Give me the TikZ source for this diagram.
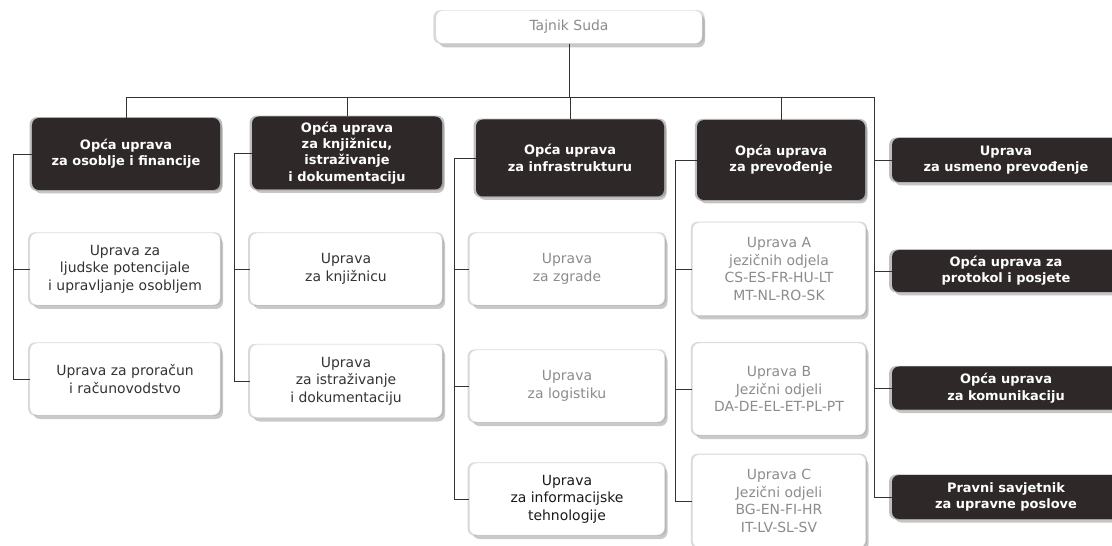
\documentclass[tikz,border=0pt]{standalone}
\usepackage{fontspec}
\setmainfont{DejaVu Sans}
\usetikzlibrary{shadows}
\definecolor{boxdark}{HTML}{2E2829}
\tikzset{
  base/.style={rounded corners=7bp, align=center, inner sep=2bp},
  hdr/.style={base, fill=boxdark, text=white,
    font=\fontsize{13}{16.5}\selectfont\bfseries,
    general shadow={fill=black!25, shadow scale=1.025},
    drop shadow={shadow xshift=2.5bp, shadow yshift=-3.5bp, fill=black!45}},
  unit/.style={base, fill=white, draw=black!12, text=black!80,
    font=\fontsize{14}{17.5}\selectfont,
    general shadow={fill=black!15, shadow scale=1.02},
    drop shadow={shadow xshift=3bp, shadow yshift=-4bp, fill=black!42}},
  faded/.style={text=black!45},
  link/.style={draw=black!80, line width=0.9bp},
}
\begin{document}
\begin{tikzpicture}[x=1bp,y=-1bp]
\clip (0,0) rectangle (1112,546);
\fill[white] (0,0) rectangle (1112,546);
% top
\node[unit, faded, minimum width=266bp, minimum height=33bp] (top) at (569,27) {Tajnik Suda};
% headers
\node[hdr, minimum width=188bp, minimum height=72bp] (d1) at (126,154) {Opća uprava\\za osoblje i financije};
\node[hdr, minimum width=190bp, minimum height=73bp] (d2) at (347,153) {Opća uprava\\za knjižnicu,\\istraživanje\\i dokumentaciju};
\node[hdr, minimum width=188bp, minimum height=77bp] (d3) at (570,158) {Opća uprava\\za infrastrukturu};
\node[hdr, minimum width=168bp, minimum height=80bp] (d4) at (781,160) {Opća uprava\\za prevođenje};
% right column
\node[hdr, minimum width=228bp, minimum height=44bp] (r1) at (1006,160) {Uprava\\za usmeno prevođenje};
\node[hdr, minimum width=228bp, minimum height=42bp] (r2) at (1006,271) {Opća uprava za\\protokol i posjete};
\node[hdr, minimum width=228bp, minimum height=43bp] (r3) at (1006,388) {Opća uprava\\za komunikaciju};
\node[hdr, minimum width=228bp, minimum height=44bp] (r4) at (1006,497) {Pravni savjetnik\\za upravne poslove};
% column 1
\node[unit, minimum width=190bp, minimum height=72bp] (w1) at (125,269) {Uprava za\\ljudske potencijale\\i upravljanje osobljem};
\node[unit, minimum width=190bp, minimum height=72bp] (w2) at (125,379) {Uprava za proračun\\i računovodstvo};
% column 2
\node[unit, minimum width=192bp, minimum height=72bp] (w3) at (346,269) {Uprava\\za knjižnicu};
\node[unit, minimum width=192bp, minimum height=73bp] (w4) at (346,381) {Uprava\\za istraživanje\\i dokumentaciju};
% column 3
\node[unit, faded, minimum width=195bp, minimum height=72bp] (w5) at (567,269) {Uprava\\za zgrade};
\node[unit, faded, minimum width=195bp, minimum height=72bp] (w6) at (567,386) {Uprava\\za logistiku};
\node[unit, text=black!90, minimum width=195bp, minimum height=72bp] (w7) at (567,499) {Uprava\\za informacijske\\tehnologije};
% column 4
\node[unit, faded, minimum width=173bp, minimum height=93bp] (wa) at (779,269) {Uprava A\\jezičnih odjela\\CS-ES-FR-HU-LT\\MT-NL-RO-SK};
\node[unit, faded, minimum width=173bp, minimum height=92bp] (wb) at (779,389) {Uprava B\\Jezični odjeli\\DA-DE-EL-ET-PL-PT};
\node[unit, faded, minimum width=173bp, minimum height=93bp] (wc) at (779,501) {Uprava C\\Jezični odjeli\\BG-EN-FI-HR\\IT-LV-SL-SV};
% connectors
\coordinate (busL) at (126,97);
\coordinate (busR) at (874,97);
\draw[link] (top.south) -- (top.south |- busL);
\draw[link] (busL) -- (busR);
\draw[link] (busL) -- (d1.north);
\draw[link] (d2.north |- busL) -- (d2.north);
\draw[link] (d3.north |- busL) -- (d3.north);
\draw[link] (d4.north |- busL) -- (d4.north);
\draw[link] (busR) |- (r4.west);
\draw[link] (busR |- r1.west) -- (r1.west);
\draw[link] (busR |- r2.west) -- (r2.west);
\draw[link] (busR |- r3.west) -- (r3.west);
% column links
\draw[link] (d1.west) -- ++(-18,0) coordinate (c1) |- (w2.west);
\draw[link] (c1 |- w1.west) -- (w1.west);
\draw[link] (d2.west) -- ++(-17,0) coordinate (c2) |- (w4.west);
\draw[link] (c2 |- w3.west) -- (w3.west);
\draw[link] (d3.west) -- ++(-21,0) coordinate (c3) |- (w7.west);
\draw[link] (c3 |- w5.west) -- (w5.west);
\draw[link] (c3 |- w6.west) -- (w6.west);
\draw[link] (d4.west) -- ++(-21,0) coordinate (c4) |- (wc.west);
\draw[link] (c4 |- wa.west) -- (wa.west);
\draw[link] (c4 |- wb.west) -- (wb.west);
\end{tikzpicture}
\end{document}
